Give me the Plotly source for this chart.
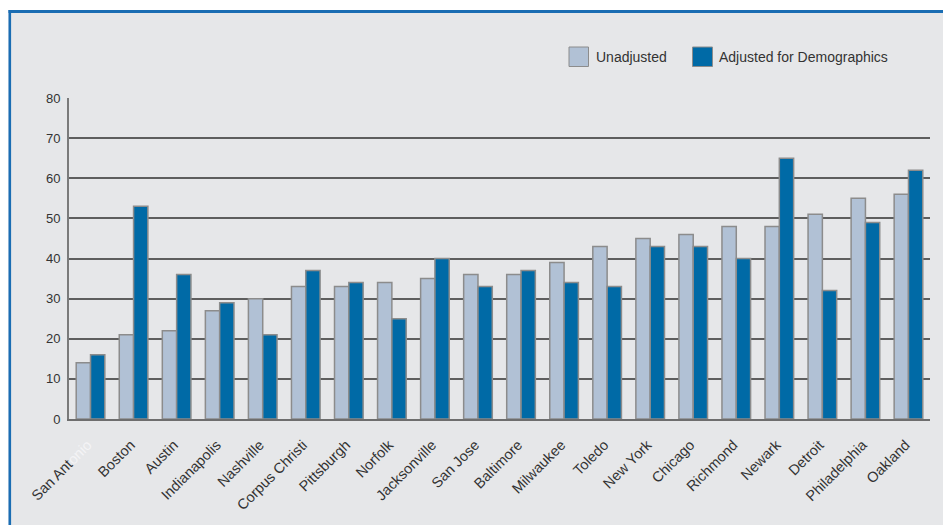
import plotly.graph_objects as go

cities = ["San Antonio", "Boston", "Austin", "Indianapolis", "Nashville", "Corpus Christi",
          "Pittsburgh", "Norfolk", "Jacksonville", "San Jose", "Baltimore", "Milwaukee",
          "Toledo", "New York", "Chicago", "Richmond", "Newark", "Detroit",
          "Philadelphia", "Oakland"]
unadjusted = [14, 21, 22, 27, 30, 33, 33, 34, 35, 36, 36, 39, 43, 45, 46, 48, 48, 51, 55, 56]
adjusted = [16, 53, 36, 29, 21, 37, 34, 25, 40, 33, 37, 34, 33, 43, 43, 40, 65, 32, 49, 62]
tick_labels = ["San Ant<span style='color:#f4f4f6'>onio</span>"] + cities[1:]
y_ticks = [0, 10, 20, 30, 40, 50, 60, 70, 80]

C_UN = "#b1c1d5"
C_AD = "#006aa6"
BG = "#e6e7e9"
BLUE = "#1a6db3"

W, H = 943, 525
L, R, T, B = 69, 13, 98, 106
PW, PH = W - L - R, H - T - B

def px_x(p):
    return (p - L) / PW

def px_y(p):
    return (H - B - p) / PH

fig = go.Figure()
fig.add_trace(go.Bar(x=cities, y=unadjusted, name="Unadjusted",
                     marker=dict(color=C_UN, line=dict(color="#8c8c8c", width=1.5)),
                     showlegend=False))
fig.add_trace(go.Bar(x=cities, y=adjusted, name="Adjusted for Demographics",
                     marker=dict(color=C_AD, line=dict(color="#8c8c8c", width=1.5)),
                     showlegend=False))

shapes = [
    dict(type="rect", xref="paper", yref="paper", x0=px_x(0), x1=px_x(W), y0=px_y(10), y1=px_y(0),
         fillcolor="white", line=dict(width=0), layer="above"),
    dict(type="rect", xref="paper", yref="paper", x0=px_x(0), x1=px_x(8.5), y0=px_y(H), y1=px_y(0),
         fillcolor="white", line=dict(width=0), layer="above"),
    dict(type="line", xref="paper", yref="paper", x0=px_x(8.5), x1=px_x(W), y0=px_y(11.5), y1=px_y(11.5),
         line=dict(color=BLUE, width=3), layer="above"),
    dict(type="line", xref="paper", yref="paper", x0=px_x(9.8), x1=px_x(9.8), y0=px_y(H), y1=px_y(10),
         line=dict(color=BLUE, width=2.6), layer="above"),
    dict(type="rect", xref="paper", yref="paper", x0=px_x(569), x1=px_x(588.5), y0=px_y(66.5), y1=px_y(47),
         fillcolor=C_UN, line=dict(color="#8c8c8c", width=1), layer="above"),
    dict(type="rect", xref="paper", yref="paper", x0=px_x(692.5), x1=px_x(712.5), y0=px_y(66.5), y1=px_y(47),
         fillcolor=C_AD, line=dict(color="#8c8c8c", width=1), layer="above"),
]

annotations = [
    dict(text="Unadjusted", xref="paper", yref="paper", x=px_x(594), y=px_y(57),
         xanchor="left", yanchor="middle", showarrow=False,
         font=dict(family="Liberation Sans, Arial", size=14, color="#333333")),
    dict(text="Adjusted for Demographics", xref="paper", yref="paper", x=px_x(717), y=px_y(57),
         xanchor="left", yanchor="middle", showarrow=False,
         font=dict(family="Liberation Sans, Arial", size=14, color="#333333")),
]

fig.update_layout(
    width=W, height=H,
    margin=dict(l=L, r=R, t=T, b=B, pad=0),
    paper_bgcolor=BG, plot_bgcolor=BG,
    barmode="group", bargap=0.335, bargroupgap=0,
    shapes=shapes, annotations=annotations,
    font=dict(family="Liberation Sans, Arial", color="#333333"),
    xaxis=dict(tickmode="array", tickvals=cities, ticktext=[t + "\u00a0" for t in tick_labels],
               tickangle=-45,
               tickfont=dict(size=14.5, color="#333333"), showgrid=False,
               showline=True, linecolor="#6e6e6e", linewidth=2, ticks="", ticklabelstandoff=7),
    yaxis=dict(range=[0, 80], tickvals=y_ticks, showgrid=True, gridcolor="#5e5e5e", gridwidth=1.5,
               showline=True, linecolor="#7a7a7a", linewidth=2, zeroline=False,
               tickfont=dict(size=13, color="#333333"), ticks="", ticklabelstandoff=4),
)

fig.write_html("out.html", config={"displayModeBar": False},
               post_script="document.body.style.margin='0';document.body.style.padding='0';")
